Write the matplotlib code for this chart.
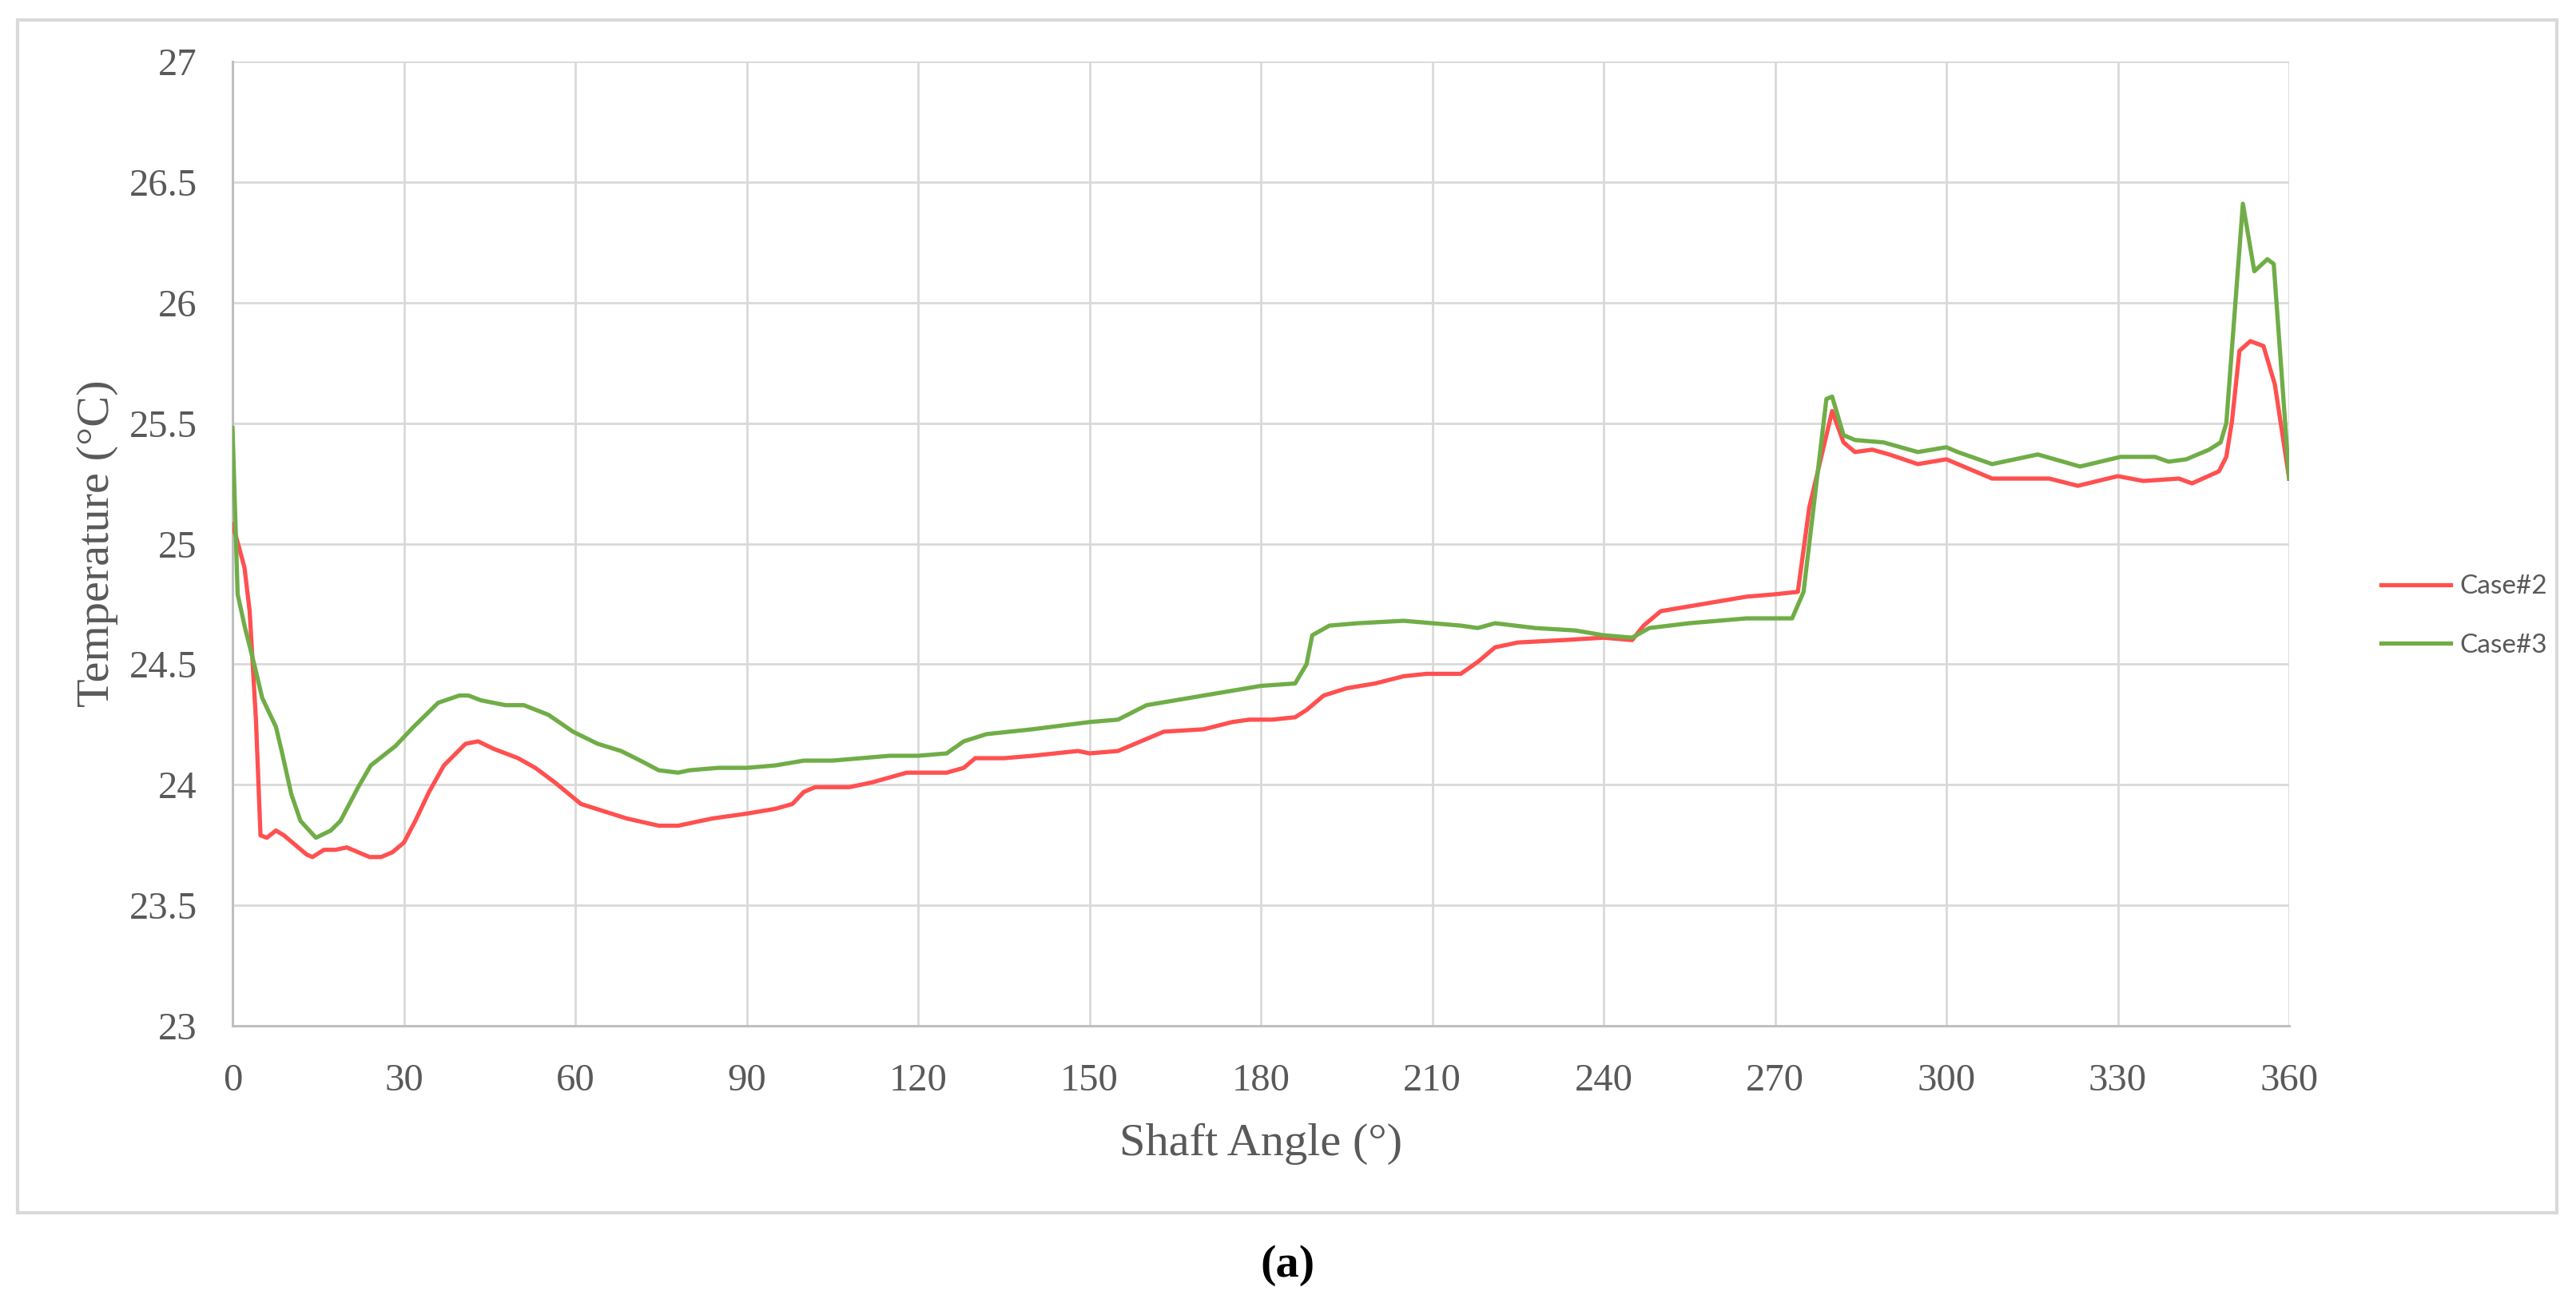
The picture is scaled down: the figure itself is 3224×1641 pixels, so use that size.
import matplotlib

matplotlib.use("Agg")

import matplotlib.pyplot as plt
from matplotlib.patches import Rectangle


# shaft angle (deg) / temperature (degC)
ANGLE_CASE2 = [
    0, 1.2, 2.1, 3.0, 4.1, 4.9, 6, 7.6, 9, 11, 13, 14, 16, 18, 20, 22, 24, 26,
    28, 30, 32, 34.4, 37, 40.8, 43, 45.6, 50, 53, 56.4, 61, 65, 69, 74.6, 78,
    80, 84, 90, 95, 98, 100, 102, 105, 108, 112, 115, 118, 125, 128, 130, 135,
    140, 148, 150, 155, 158, 160, 163, 170, 175, 178, 182, 186, 188, 191, 195,
    200, 205, 209, 215, 218, 221, 225, 233, 240, 245, 247, 250, 255, 260, 265,
    270, 274, 276, 278, 280, 282, 284, 287, 290, 295, 300, 302, 305, 308, 318,
    323, 330, 334.5, 340.7, 343, 347.7, 349, 350, 351.3, 353.2, 355.5, 357.5,
    360,
]
TEMP_CASE2 = [
    25.08, 24.98, 24.90, 24.72, 24.27, 23.79, 23.78, 23.81, 23.79, 23.75,
    23.71, 23.70, 23.73, 23.73, 23.74, 23.72, 23.70, 23.70, 23.72, 23.76,
    23.85, 23.97, 24.08, 24.17, 24.18, 24.15, 24.11, 24.07, 24.01, 23.92,
    23.89, 23.86, 23.83, 23.83, 23.84, 23.86, 23.88, 23.90, 23.92, 23.97,
    23.99, 23.99, 23.99, 24.01, 24.03, 24.05, 24.05, 24.07, 24.11, 24.11,
    24.12, 24.14, 24.13, 24.14, 24.17, 24.19, 24.22, 24.23, 24.26, 24.27,
    24.27, 24.28, 24.31, 24.37, 24.40, 24.42, 24.45, 24.46, 24.46, 24.51,
    24.57, 24.59, 24.60, 24.61, 24.60, 24.66, 24.72, 24.74, 24.76, 24.78,
    24.79, 24.80, 25.15, 25.35, 25.55, 25.42, 25.38, 25.39, 25.37, 25.33,
    25.35, 25.33, 25.30, 25.27, 25.27, 25.24, 25.28, 25.26, 25.27, 25.25,
    25.30, 25.36, 25.51, 25.80, 25.84, 25.82, 25.66, 25.27,
]

ANGLE_CASE3 = [
    0, 0.9, 2.2, 3.9, 5.2, 7.6, 8.7, 10.3, 11.9, 14.6, 17.2, 18.9, 22, 24.2,
    28.5, 31.7, 36, 39.7, 41.3, 43.5, 47.8, 51, 55.3, 59.6, 63.9, 68, 71.4,
    74.6, 78, 80, 85, 90, 95, 100, 105, 110, 115, 120, 125, 128, 132, 140, 150,
    155, 160, 165, 170, 175, 180, 186, 188, 189, 192, 197, 205, 210, 215, 218,
    221, 228, 235, 240, 245, 248, 255, 260, 265, 273, 275, 277, 279, 280, 282,
    284, 289, 295, 300, 302, 308, 316, 323.4, 330.5, 336.5, 338.9, 342, 346,
    348, 349, 351.9, 353.9, 356.2, 357.3, 360,
]
TEMP_CASE3 = [
    25.48, 24.79, 24.65, 24.49, 24.36, 24.24, 24.13, 23.96, 23.85, 23.78,
    23.81, 23.85, 23.99, 24.08, 24.16, 24.24, 24.34, 24.37, 24.37, 24.35,
    24.33, 24.33, 24.29, 24.22, 24.17, 24.14, 24.10, 24.06, 24.05, 24.06,
    24.07, 24.07, 24.08, 24.10, 24.10, 24.11, 24.12, 24.12, 24.13, 24.18,
    24.21, 24.23, 24.26, 24.27, 24.33, 24.35, 24.37, 24.39, 24.41, 24.42,
    24.50, 24.62, 24.66, 24.67, 24.68, 24.67, 24.66, 24.65, 24.67, 24.65,
    24.64, 24.62, 24.61, 24.65, 24.67, 24.68, 24.69, 24.69, 24.80, 25.20,
    25.60, 25.61, 25.45, 25.43, 25.42, 25.38, 25.40, 25.38, 25.33, 25.37,
    25.32, 25.36, 25.36, 25.34, 25.35, 25.39, 25.42, 25.50, 26.41, 26.13,
    26.18, 26.16, 25.27,
]

X_TICKS = list(range(0, 361, 30))
Y_TICKS = [23, 23.5, 24, 24.5, 25, 25.5, 26, 26.5, 27]
Y_TICK_LABELS = ["23", "23.5", "24", "24.5", "25", "25.5", "26", "26.5", "27"]

RED = "#FF5050"
GREEN = "#70AD47"
GRID = "#D9D9D9"
TEXT = "#595959"
SERIF = ["Liberation Serif", "DejaVu Serif"]

W, H = 3224, 1641
DPI = 200


def fx(px):
    return px / W


def fy(py):
    return 1 - py / H


def main():
    fig = plt.figure(figsize=(W / DPI, H / DPI), dpi=DPI)
    fig.patch.set_facecolor("white")

    # outer chart frame
    fig.patches.append(
        Rectangle(
            (fx(22), fy(1518)),
            fx(3200) - fx(22),
            fy(25) - fy(1518),
            transform=fig.transFigure,
            fill=False,
            edgecolor=GRID,
            linewidth=1.5,
        )
    )

    ax = fig.add_axes([fx(291), fy(1284), fx(2865) - fx(291), fy(77) - fy(1284)])
    ax.plot(ANGLE_CASE2, TEMP_CASE2, color=RED, linewidth=1.9, label="Case#2",
            solid_joinstyle="round", zorder=3)
    ax.plot(ANGLE_CASE3, TEMP_CASE3, color=GREEN, linewidth=1.9, label="Case#3",
            solid_joinstyle="round", zorder=3)

    ax.set_xlim(0, 360)
    ax.set_ylim(23, 27)
    ax.set_xticks(X_TICKS)
    ax.set_yticks(Y_TICKS)
    ax.set_yticklabels(Y_TICK_LABELS)
    ax.grid(True, color=GRID, linewidth=1.0)
    ax.set_axisbelow(True)
    ax.tick_params(length=0, colors=TEXT, labelsize=17.5)
    ax.tick_params(axis="x", pad=17)
    ax.tick_params(axis="y", pad=16)
    for lab in ax.get_xticklabels() + ax.get_yticklabels():
        lab.set_family(SERIF)

    for side in ("top", "right"):
        ax.spines[side].set_visible(False)
    for side in ("left", "bottom"):
        ax.spines[side].set_color("#BFBFBF")
        ax.spines[side].set_linewidth(1.1)

    fig.text(fx(1578), fy(1432), "Shaft Angle (°)", ha="center", va="center",
             fontsize=21, color=TEXT, family=SERIF)
    fig.text(fx(122), fy(680), "Temperature (°C)", ha="center", va="center",
             rotation=90, fontsize=21, color=TEXT, family=SERIF)

    leg = fig.legend(
        loc="center left",
        bbox_to_anchor=(fx(2950), fy(771)),
        frameon=False,
        handlelength=2.6,
        handletextpad=0.35,
        labelspacing=1.3,
        prop={"family": ["Lato", "DejaVu Sans"], "size": 12},
    )
    for txt in leg.get_texts():
        txt.set_color(TEXT)

    fig.text(fx(1612), fy(1584), "(a)", ha="center", va="center",
             fontsize=21, fontweight="bold", color="black", family=SERIF)

    fig.savefig("out.png", dpi=DPI, facecolor="white")
    plt.close(fig)


if __name__ == "__main__":
    main()
